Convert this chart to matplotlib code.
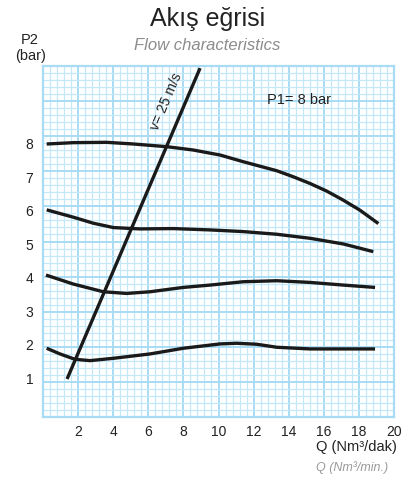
import matplotlib
matplotlib.use("Agg")
import matplotlib.pyplot as plt
import numpy as np

plt.rcParams['font.family'] = ['Liberation Sans', 'DejaVu Sans']

# okunan degerler (Q: Nm3/dak, P2: bar)
q8 = [0.21, 1.73, 3.63, 5.15, 7.05, 8.56, 10.09, 11.41, 13.32, 14.26, 15.21, 16.17, 17.11, 18.06, 19.11]
p8 = [8.00, 8.04, 8.05, 8.00, 7.92, 7.82, 7.67, 7.47, 7.20, 7.02, 6.82, 6.59, 6.32, 6.02, 5.62]
q6 = [0.21, 1.73, 2.87, 4.01, 5.53, 7.42, 9.52, 11.41, 13.32, 15.21, 17.11, 18.82]
p6 = [6.03, 5.81, 5.63, 5.50, 5.46, 5.47, 5.43, 5.38, 5.30, 5.18, 5.01, 4.78]
q4 = [0.17, 1.73, 3.44, 4.77, 6.10, 7.99, 9.52, 11.41, 13.32, 15.21, 17.11, 18.92]
p4 = [4.08, 3.81, 3.58, 3.53, 3.58, 3.71, 3.78, 3.88, 3.91, 3.86, 3.78, 3.71]
q2 = [0.21, 0.97, 1.82, 2.68, 4.01, 6.10, 7.99, 10.09, 11.04, 12.18, 13.32, 15.21, 18.92]
p2 = [1.89, 1.72, 1.56, 1.52, 1.59, 1.72, 1.89, 2.02, 2.04, 2.01, 1.92, 1.87, 1.87]
qv = [1.37, 8.95]
pv = [0.97, 10.27]

xticks = [2, 4, 6, 8, 10, 12, 14, 16, 18, 20]
yticks = [1, 2, 3, 4, 5, 6, 7, 8]

fig = plt.figure(figsize=(4.15, 4.79), dpi=100)
rect = [43/415, 1-417/479, 351/415, 351/479]

# milimetrik kagit
gax = fig.add_axes(rect)
gax.set_xlim(0, 20)
gax.set_ylim(0, 10)
gax.set_xticks(np.arange(0, 20.1, 2))
gax.set_xticks(np.arange(0, 20.1, 0.4), minor=True)
gax.set_yticks(np.arange(0, 10.1, 1))
gax.set_yticks(np.arange(0, 10.1, 0.2), minor=True)
gax.grid(which='major', color='#a8dcf4', lw=1.4)
gax.grid(which='minor', color='#c4e8f8', lw=0.9)
gax.tick_params(which='both', length=0, labelbottom=False, labelleft=False)
for s in gax.spines.values():
    s.set_color('#a8dcf4')
    s.set_linewidth(1.6)

ax = fig.add_axes(rect)
ax.patch.set_visible(False)
ax.set_xlim(0, 20)
ax.set_ylim(-0.166, 10.333)
for s in ax.spines.values():
    s.set_visible(False)
ax.set_xticks(xticks)
ax.set_yticks(yticks)
ax.tick_params(length=0, labelsize=10, colors='#222222', pad=6)
ax.tick_params(axis='y', pad=7)

for q, p in [(q8, p8), (q6, p6), (q4, p4), (q2, p2)]:
    ax.plot(q, p, color='#1a1a1a', lw=2.4, solid_capstyle='butt', solid_joinstyle='round')
ax.plot(qv, pv, color='#1a1a1a', lw=2.4, solid_capstyle='butt')

ax.text(7.05, 9.26, 'v= 25 m/s', rotation=66.8, rotation_mode='anchor',
        ha='center', va='center', fontsize=10, color='#222222')
ax.text(12.76, 9.32, 'P1= 8 bar', ha='left', va='center', fontsize=10.5, color='#222222')

fig.text(208/415, 1-19/479, 'Akış eğrisi', ha='center', va='center', fontsize=18, color='#222222')
fig.text(207/415, 1-45/479, 'Flow characteristics', ha='center', va='center',
         fontsize=12, style='italic', color='#8c8c8c')
fig.text(30/415, 1-40/479, 'P2', ha='center', va='center', fontsize=10.5, color='#222222')
fig.text(31/415, 1-56/479, '(bar)', ha='center', va='center', fontsize=10.5, color='#222222')
fig.text(397/415, 1-447/479, 'Q (Nm³/dak)', ha='right', va='center', fontsize=10.5, color='#222222')
fig.text(388/415, 1-468/479, 'Q (Nm³/min.)', ha='right', va='center', fontsize=9,
         style='italic', color='#9a9a9a')

fig.savefig('out.png', dpi=100)
